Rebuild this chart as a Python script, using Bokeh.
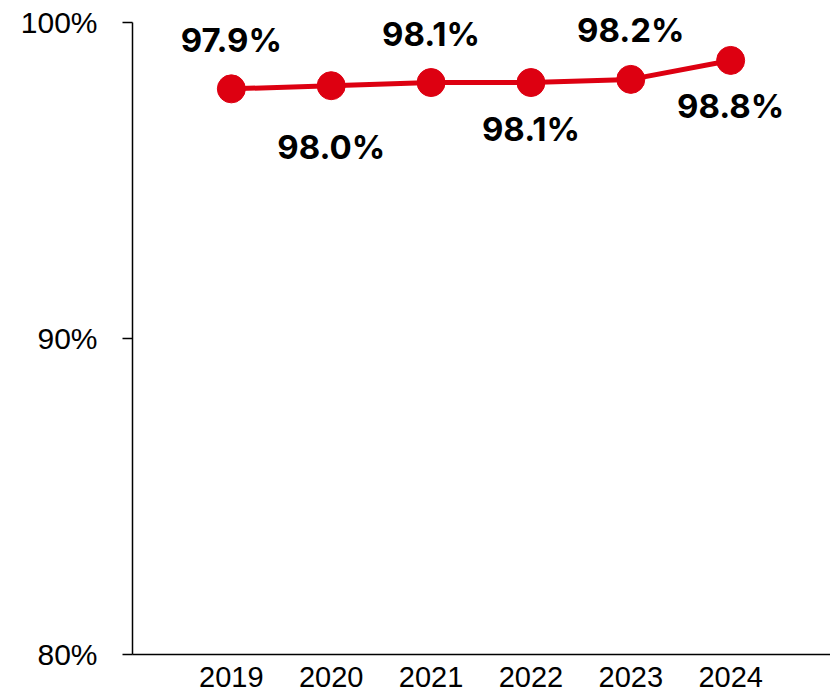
from bokeh.plotting import figure
from bokeh.models import ColumnDataSource, FixedTicker, CustomJSTickFormatter, Range1d
from bokeh.core.properties import value
from bokeh.embed import file_html
from bokeh.resources import INLINE

years = [2019, 2020, 2021, 2022, 2023, 2024]
rates = [97.9, 98.0, 98.1, 98.1, 98.2, 98.8]
labels = ["97.9%", "98.0%", "98.1%", "98.1%", "98.2%", "98.8%"]
y_ticks = [80, 90, 100]

# label placement (screen px, style only)
label_offsets = [-49, 61, -49, 46, -49, 46]

RED = "#DD0011"

# frame extends a little above 100% so labels are not clipped; axis line bounded to 80..100
p = figure(width=830, height=693, output_backend="svg", toolbar_location=None,
           x_range=Range1d(2018.01, 2025.0), y_range=Range1d(80, 100.633),
           min_border_left=132, min_border_right=0, min_border_top=2, min_border_bottom=39)
p.outline_line_color = None
p.xgrid.visible = False
p.ygrid.visible = False
p.background_fill_color = "white"
p.border_fill_color = "white"

src = ColumnDataSource(dict(x=years, y=rates, label=labels, off=label_offsets))
p.line("x", "y", source=src, line_color=RED, line_width=5)
p.scatter("x", "y", source=src, size=28, fill_color=RED, line_color=RED)
p.text("x", "y", text="label", y_offset="off", source=src, text_align="center",
       text_baseline="middle", text_font=value("Inter"),
       text_font_style="bold", text_font_size="33px", text_color="black")

ya = p.yaxis[0]
ya.bounds = (80, 100)
ya.ticker = FixedTicker(ticks=y_ticks)
ya.formatter = CustomJSTickFormatter(code="return tick + '%';")
ya.major_tick_out = 10
ya.major_tick_in = 0
ya.minor_tick_out = 0
ya.minor_tick_in = 0
ya.axis_line_width = 1.5
ya.major_tick_line_width = 1.5
ya.axis_line_color = "black"
ya.major_tick_line_color = "black"
ya.major_label_standoff = 25
ya.major_label_text_font = "Liberation Sans"
ya.major_label_text_font_size = "30px"
ya.major_label_text_color = "black"

xa = p.xaxis[0]
xa.ticker = FixedTicker(ticks=years)
xa.major_tick_out = 0
xa.major_tick_in = 0
xa.minor_tick_out = 0
xa.minor_tick_in = 0
xa.axis_line_width = 1.5
xa.axis_line_color = "black"
xa.major_label_standoff = 12
xa.major_label_text_font = "Liberation Sans"
xa.major_label_text_font_size = "29px"
xa.major_label_text_color = "black"

open("out.html", "w").write(file_html(p, INLINE))
